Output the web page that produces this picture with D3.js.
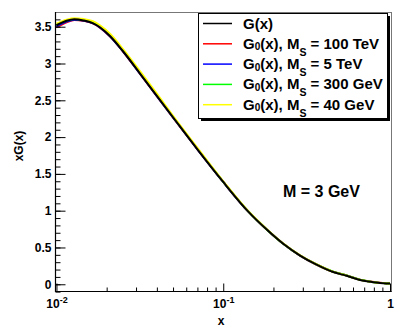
<!DOCTYPE html>
<html>
<head>
<meta charset="utf-8">
<script src="https://cdn.jsdelivr.net/npm/d3@7"></script>
<style>
  body { margin: 0; background: #fff; }
  svg { display: block; }
  text { font-family: "Liberation Sans", Arial, Helvetica, sans-serif; font-weight: bold; fill: #000; }
</style>
</head>
<body>
<svg width="403" height="332"></svg>
<script>
// x sample points shared by all curves
var xs = [0.01, 0.0115, 0.0128, 0.0145, 0.0165, 0.0183, 0.021, 0.025, 0.0318, 0.04, 0.05, 0.0708, 0.1, 0.141, 0.183, 0.229, 0.289, 0.36, 0.456, 0.55, 0.661, 0.78, 0.87, 0.95, 1.0];

// xG(x) values
var gFull   = [3.52, 3.58, 3.60, 3.585, 3.55, 3.49, 3.37, 3.17, 2.86, 2.56, 2.27, 1.82, 1.39, 0.99, 0.74, 0.55, 0.39, 0.27, 0.167, 0.115, 0.058, 0.030, 0.018, 0.012, 0.010];
var g100TeV = [3.49, 3.56, 3.59, 3.58, 3.545, 3.485, 3.365, 3.165, 2.855, 2.555, 2.265, 1.82, 1.39, 0.99, 0.74, 0.55, 0.39, 0.272, 0.170, 0.119, 0.062, 0.033, 0.020, 0.013, 0.010];
var g5TeV   = [3.505, 3.57, 3.595, 3.583, 3.548, 3.488, 3.368, 3.168, 2.858, 2.558, 2.268, 1.82, 1.39, 0.99, 0.74, 0.55, 0.39, 0.271, 0.168, 0.117, 0.060, 0.031, 0.019, 0.012, 0.010];
var g300GeV = [3.525, 3.585, 3.605, 3.592, 3.557, 3.497, 3.377, 3.177, 2.867, 2.565, 2.275, 1.825, 1.393, 0.992, 0.742, 0.551, 0.391, 0.273, 0.171, 0.119, 0.062, 0.032, 0.019, 0.012, 0.010];
var g40GeV  = [3.54, 3.595, 3.615, 3.605, 3.575, 3.515, 3.40, 3.20, 2.89, 2.59, 2.29, 1.84, 1.40, 0.995, 0.745, 0.553, 0.392, 0.272, 0.169, 0.117, 0.060, 0.031, 0.019, 0.012, 0.010];

var masses = ["100 TeV", "5 TeV", "300 GeV", "40 GeV"];
var colors = ["#ff0000", "#0000ff", "#00ff00", "#ffff00"];
var yTicks = [0, 0.5, 1, 1.5, 2, 2.5, 3, 3.5];
var xTicks = [0.01, 0.1, 1];
var xTickLabels = [["10", "-2"], ["10", "-1"], ["1", ""]];

var svg = d3.select("svg"),
    frameL = 55, frameR = 391, frameT = 12, frameB = 292;

var x = d3.scaleLog().domain([0.0098, 1.0138]).range([frameL, frameR]);
var y = d3.scaleLinear().domain([-0.105, 3.70]).range([frameB, frameT]);

// frame
svg.append("line").attr("x1", frameL).attr("x2", frameR + 0.5).attr("y1", frameT + 0.5).attr("y2", frameT + 0.5)
    .attr("stroke", "#777").attr("stroke-width", 1);
svg.append("line").attr("x1", frameR + 0.5).attr("x2", frameR + 0.5).attr("y1", frameT).attr("y2", frameB)
    .attr("stroke", "#777").attr("stroke-width", 1);

// curves: coloured ones first, full G(x) on top
var line = d3.line()
    .x(function(d) { return x(d[0]); })
    .y(function(d) { return y(d[1]); })
    .curve(d3.curveMonotoneX);

var series = [g100TeV, g5TeV, g300GeV, g40GeV];
series.forEach(function(vals, i) {
  svg.append("path")
    .datum(xs.map(function(v, j) { return [v, vals[j]]; }))
    .attr("fill", "none")
    .attr("stroke", colors[i])
    .attr("stroke-width", 2)
    .attr("d", line);
});
svg.append("path")
  .datum(xs.map(function(v, j) { return [v, gFull[j]]; }))
  .attr("fill", "none")
  .attr("stroke", "#000")
  .attr("stroke-width", 2)
  .attr("d", line);

// y axis
var yMinor = d3.range(-1, 37).map(function(i) { return i / 10; });
svg.append("g")
    .attr("transform", "translate(" + (frameL + 0.5) + ",0)")
    .call(d3.axisLeft(y).tickValues(yMinor).tickSizeInner(-5).tickSizeOuter(0).tickFormat(""))
    .call(function(g) { g.select(".domain").remove(); });
var yAx = svg.append("g")
    .attr("transform", "translate(" + (frameL + 0.5) + ",0)")
    .call(d3.axisLeft(y).tickValues(yTicks).tickSizeInner(-10).tickSizeOuter(0).tickPadding(4)
      .tickFormat(function(d) { return d; }));
yAx.select(".domain").attr("d", "M0," + frameT + "V" + frameB).attr("stroke-width", 1.2);
yAx.selectAll("text").style("font-size", "12px");

// x axis
var xMinor = [];
[0.01, 0.1].forEach(function(dec) {
  for (var k = 2; k <= 9; k++) xMinor.push(dec * k);
});
svg.append("g")
    .attr("transform", "translate(0," + (frameB - 0.5) + ")")
    .call(d3.axisBottom(x).tickValues(xMinor).tickSizeInner(-4).tickSizeOuter(0).tickFormat(""))
    .call(function(g) { g.select(".domain").remove(); });
var xAx = svg.append("g")
    .attr("transform", "translate(0," + (frameB - 0.5) + ")")
    .call(d3.axisBottom(x).tickValues(xTicks).tickSizeInner(-8).tickSizeOuter(0).tickPadding(7.5).tickFormat(""));
xAx.select(".domain").attr("d", "M" + frameL + ",0H" + (frameR + 0.5)).attr("stroke-width", 1.2);
xAx.selectAll(".tick text").each(function(d, i) {
  var t = d3.select(this).style("font-size", "12px");
  t.append("tspan").text(xTickLabels[i][0]);
  if (xTickLabels[i][1]) {
    t.append("tspan").attr("dy", "-5").style("font-size", "9px").text(xTickLabels[i][1]);
  }
});

// axis titles
svg.append("text")
    .attr("x", 221).attr("y", 325)
    .attr("text-anchor", "middle")
    .style("font-size", "12px")
    .text("x");
svg.append("text")
    .attr("transform", "translate(23,146) rotate(-90)")
    .attr("text-anchor", "middle")
    .style("font-size", "12px")
    .text("xG(x)");

svg.append("text")
    .attr("x", 283).attr("y", 197)
    .style("font-size", "16px")
    .text("M = 3 GeV");

// legend
var lx = 198, ly = 13, lw = 189, lh = 105;
svg.append("rect").attr("x", lx + 3).attr("y", ly + 3).attr("width", lw).attr("height", lh).attr("fill", "#000");
svg.append("rect").attr("x", lx + 0.5).attr("y", ly + 0.5).attr("width", lw).attr("height", lh)
    .attr("fill", "#fff").attr("stroke", "#000").attr("stroke-width", 1);

var rows = [{ color: "#000", mass: null }].concat(masses.map(function(m, i) { return { color: colors[i], mass: m }; }));
var leg = svg.selectAll(".leg")
  .data(rows)
  .enter().append("g")
    .attr("class", "leg")
    .attr("transform", function(d, i) { return "translate(0," + (23.5 + i * 20.3) + ")"; });

leg.append("line")
    .attr("x1", 203).attr("x2", 232)
    .attr("stroke", function(d) { return d.color; })
    .attr("stroke-width", 1.5);

leg.append("text")
    .attr("x", 243).attr("y", 5)
    .style("font-size", "15px")
    .each(function(d) {
      var t = d3.select(this);
      if (!d.mass) { t.text("G(x)"); return; }
      t.append("tspan").text("G");
      t.append("tspan").attr("dy", 1.5).style("font-size", "10px").text("0");
      t.append("tspan").attr("dy", -1.5).text("(x), M");
      t.append("tspan").attr("dy", 7).style("font-size", "10.5px").text("S");
      t.append("tspan").attr("dy", -7).text(" = " + d.mass);
    });
</script>
</body>
</html>
